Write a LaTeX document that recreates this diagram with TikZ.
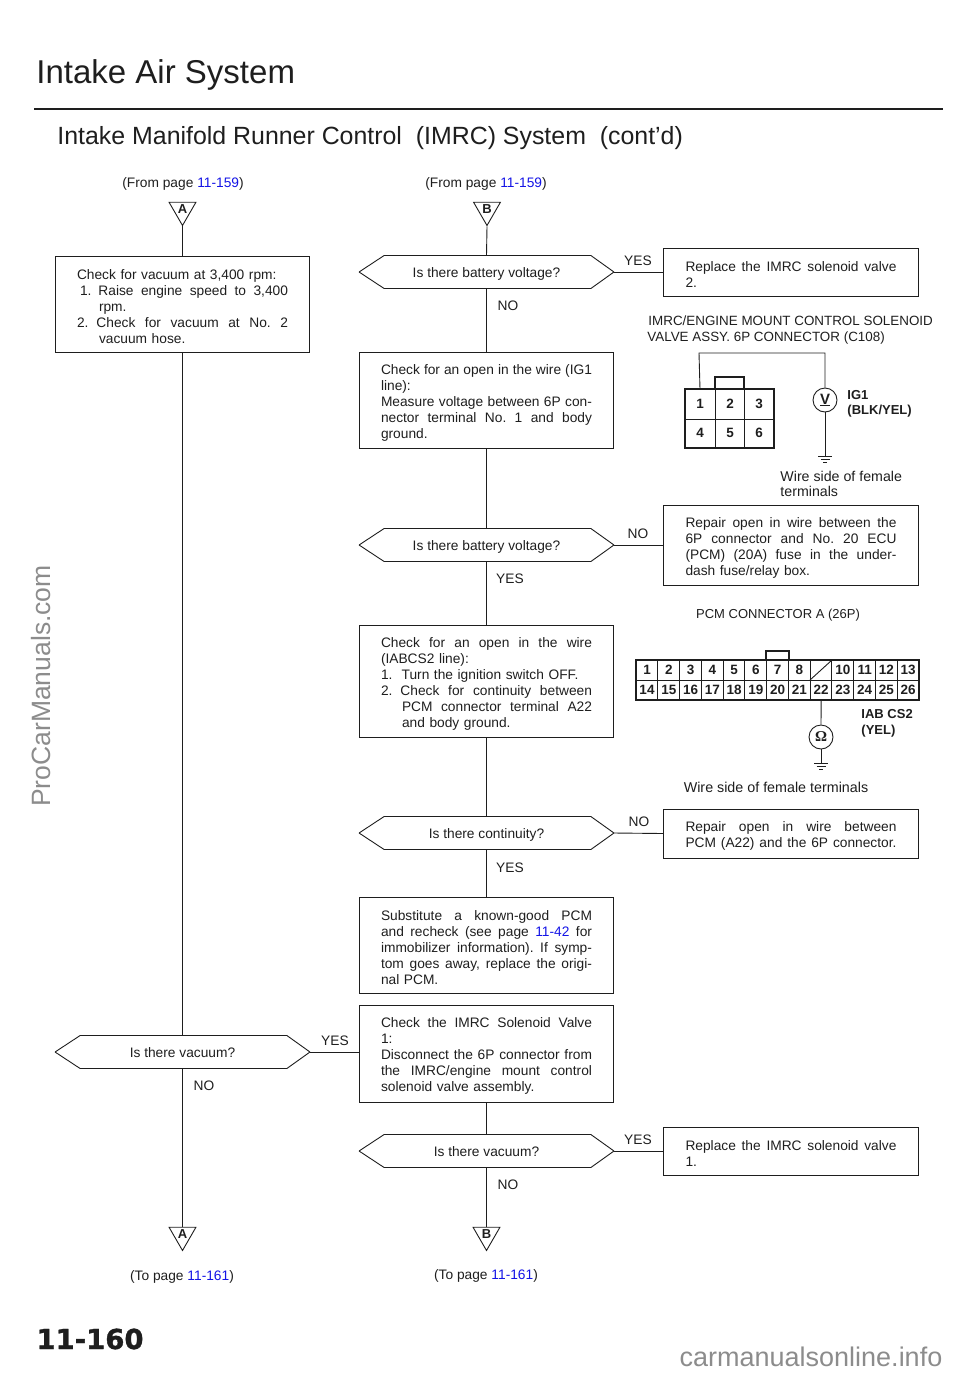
\documentclass[tikz,border=0pt]{standalone}
\usepackage{fontspec}
\setmainfont{Liberation Sans}
\newfontfamily\pagefont[BoldFeatures={FakeBold=1.2}]{DejaVu Sans}
\usetikzlibrary{shapes.geometric}
\definecolor{inkgray}{HTML}{1E1E1E}
\definecolor{linkblue}{HTML}{1414E6}
\definecolor{markgray}{HTML}{8C8C8C}
\newcommand{\lnk}[1]{\textcolor{linkblue}{#1}}
\newcommand{\jline}[2][0pt]{\hbox to \hsize{\spaceskip=.278em plus 1fil\relax\hskip#1\relax #2}}
\newcommand{\pline}[2][0pt]{\hbox{\hskip#1\relax #2}}
\begin{document}
\begin{tikzpicture}[x=1pt, y=-1pt, >=stealth, line width=0.9pt, draw=inkgray, text=inkgray,
  body/.style={font=\fontsize{13.75}{16}\selectfont\frenchspacing},
  wide/.style={font=\fontsize{#1}{16}\selectfont\frenchspacing, inner sep=0pt, anchor=base west},
  wide/.default=13.4,
  stepbox/.style={body, draw, rectangle, inner xsep=21.5pt, inner ysep=0pt, text width=211pt, minimum height=#1,
    execute at begin node={\vskip-0.8pt}},
  stepbox/.default=96pt,
  query/.style={body, inner sep=0pt, minimum width=254pt, minimum height=32pt, text height=14pt, text depth=3pt,
    append after command={
      (\tikzlastnode.west) edge ([xshift=25pt]\tikzlastnode.north west)
      ([xshift=25pt]\tikzlastnode.north west) edge ([xshift=-23pt]\tikzlastnode.north east)
      ([xshift=-23pt]\tikzlastnode.north east) edge (\tikzlastnode.east)
      (\tikzlastnode.east) edge ([xshift=-23pt]\tikzlastnode.south east)
      ([xshift=-23pt]\tikzlastnode.south east) edge ([xshift=25pt]\tikzlastnode.south west)
      ([xshift=25pt]\tikzlastnode.south west) edge (\tikzlastnode.west)}},
  answer/.style={body, inner sep=0pt},
  pageref/.style={regular polygon, regular polygon sides=3, shape border rotate=180, draw, minimum size=31pt,
    inner sep=0pt},
  reflabel/.style={font=\fontsize{13}{13}\selectfont\bfseries, inner sep=0pt},
  pin/.style={font=\fontsize{13.5}{13}\selectfont\bfseries, inner sep=0pt},
  meter/.style={circle, draw, minimum size=24pt, inner sep=0pt, font=\fontsize{15}{15}\selectfont\bfseries},
  groundmark/.pic={
    \draw (-7, 0) -- (7, 0);
    \draw (-4.5, 3) -- (4.5, 3);
    \draw (-2, 6) -- (2, 6);
  }]
  \useasboundingbox (0, 0) rectangle (960, 1374);

  % headings
  \node[inner sep=0pt, anchor=base west, font=\fontsize{33}{33}\selectfont] (title) at (36, 83) {Intake\ Air\ System};
  \coordinate (ruleL) at (34, 109);
  \coordinate (ruleR) at (943, 109);
  \draw[line width=2.2pt] (ruleL) -- (ruleR);
  \node[inner sep=0pt, anchor=base west, font=\fontsize{24.9}{26}\selectfont] (subtitle) at (57, 144)
    {Intake Manifold Runner Control\ \ (IMRC) System\ \ (cont'd)};

  % page references
  \node[answer] (fromA) at (183, 183.5) {(From\ page\ \lnk{11-159})};
  \node[answer] (fromB) at (486, 183.5) {(From page \lnk{11-159})};
  \node[pageref] (triA) at (182.5, 210) {};
  \node[reflabel] at (182.5, 209) {A};
  \node[pageref] (triB) at (487, 210) {};
  \node[reflabel] at (487, 209) {B};
  \node[pageref] (triAend) at (182.5, 1235) {};
  \node[reflabel] at (182.5, 1234) {A};
  \node[pageref] (triBend) at (486.5, 1235) {};
  \node[reflabel] at (486.5, 1234) {B};
  \node[answer] (toA) at (182, 1276.5) {(To page \lnk{11-161})};
  \node[answer] (toB) at (486, 1275.5) {(To page \lnk{11-161})};

  % left column
  \node[stepbox=96pt] (vacCheck) at (182.5, 304) {%
    \pline{Check for vacuum at 3,400 rpm:}
    \jline[3pt]{1.\hskip7pt Raise engine speed to 3,400}
    \pline[22pt]{rpm.}
    \jline{2.\hskip8pt Check for vacuum at No. 2}
    \pline[22pt]{vacuum hose.}};
  \node[query] (vacL) at (182.5, 1052) {Is there vacuum?};
  \node[answer] at (335, 1041) {YES};
  \node[answer] at (204, 1086) {NO};

  % right column
  \node[query] (volt1) at (486.5, 272) {Is there battery voltage?};
  \node[stepbox=96pt] (openIG) at (486.5, 400) {%
    \jline{Check for an open in the wire (IG1}
    \pline{line):}
    \jline{Measure voltage between 6P con-}
    \jline{nector terminal No. 1 and body}
    \pline{ground.}};
  \node[query] (volt2) at (486.5, 545) {Is there battery voltage?};
  \node[stepbox=112pt] (openIAB) at (486.5, 681) {%
    \jline{Check for an open in the wire}
    \pline{(IABCS2 line):}
    \pline{1.\ \ Turn the ignition switch OFF.}
    \jline{2.\hskip8pt Check for continuity between}
    \jline[21pt]{PCM connector terminal A22}
    \pline[21pt]{and body ground.}};
  \node[query] (cont) at (486.5, 833) {Is there continuity?};
  \node[stepbox=96pt] (subPCM) at (486.5, 945) {%
    \jline{Substitute a known-good PCM}
    \jline{and recheck (see page \lnk{11-42} for}
    \jline{immobilizer information). If symp-}
    \jline{tom goes away, replace the origi-}
    \pline{nal PCM.}};
  \node[stepbox=97pt] (valve1) at (486.5, 1053.5) {%
    \jline{Check the IMRC Solenoid Valve}
    \pline{1:}
    \jline{Disconnect the 6P connector from}
    \jline{the IMRC/engine mount control}
    \pline{solenoid valve assembly.}};
  \node[query] (vacR) at (486.5, 1151) {Is there vacuum?};

  % repair boxes
  \node[stepbox=48pt, minimum width=255pt] (replace2) at (791, 272) {%
    \jline{Replace the IMRC solenoid valve}
    \pline{2.}};
  \node[stepbox=80pt, minimum width=255pt] (repairIG) at (791, 545) {%
    \jline{Repair open in wire between the}
    \jline{6P connector and No. 20 ECU}
    \jline{(PCM) (20A) fuse in the under-}
    \pline{dash fuse/relay box.}};
  \node[stepbox=49pt, minimum width=255pt] (repairIAB) at (791, 833.5) {%
    \jline{Repair open in wire between}
    \jline{PCM (A22) and the 6P connector.}};
  \node[stepbox=48pt, minimum width=255pt] (replace1) at (791, 1151) {%
    \jline{Replace the IMRC solenoid valve}
    \pline{1.}};

  % flow lines
  \draw (triA.south) -- (vacCheck.north);
  \draw (vacCheck.south) -- (vacL.north);
  \draw (vacL.south) -- (triAend.north);
  \draw (vacL.east) -- (vacL.east -| valve1.west);
  \draw (triB.south) -- (volt1.north);
  \draw (volt1.south) -- (openIG.north);
  \draw (openIG.south) -- (volt2.north);
  \draw (volt2.south) -- (openIAB.north);
  \draw (openIAB.south) -- (cont.north);
  \draw (cont.south) -- (subPCM.north);
  \draw (valve1.south) -- (vacR.north);
  \draw (vacR.south) -- (triBend.north);
  \draw (volt1.east) -- (replace2.west);
  \draw (volt2.east) -- (repairIG.west);
  \draw (cont.east) -- (repairIAB.west);
  \draw (vacR.east) -- (replace1.west);

  % yes and no
  \node[answer] at (638, 261) {YES};
  \node[answer] at (508, 306) {NO};
  \node[answer] at (638, 534) {NO};
  \node[answer] at (510, 579) {YES};
  \node[answer] at (639, 822) {NO};
  \node[answer] at (510, 868) {YES};
  \node[answer] at (638, 1140) {YES};
  \node[answer] at (508, 1185) {NO};

  % 6P connector
  \node[wide] (capA) at (648, 325) {IMRC/ENGINE MOUNT CONTROL SOLENOID};
  \node[wide] (capB) at (647, 341) {VALVE ASSY. 6P CONNECTOR (C108)};
  \draw[line width=1.3pt] (685, 389) rectangle (774, 448);
  \draw[line width=1.3pt] (715, 389) -- (715, 377) -- (744, 377) -- (744, 389);
  \draw (685, 419) -- (774, 419);
  \draw (715, 389) -- (715, 448);
  \draw (744, 389) -- (744, 448);
  \foreach \n/\px/\py in {1/700/404, 2/730/404, 3/759/404, 4/700/433, 5/730/433, 6/759/433}
    \node[pin] (six\n) at (\px, \py) {\n};
  \node[meter] (voltmeter) at (825, 400) {\underline{V}};
  \coordinate (gndV) at (825, 456);
  \draw (six1.north |- 0, 389) -- (699, 353) -- (825, 353) -- (voltmeter.north);
  \draw (voltmeter.south) -- (gndV);
  \pic at (gndV) {groundmark};
  \node[reflabel, anchor=base west] (ig) at (847, 399) {IG1};
  \node[reflabel, anchor=base west] (igw) at (847, 414) {(BLK/YEL)};
  \node[wide=14.2] (sideA) at (780, 481) {Wire side of female};
  \node[wide=14.2] (sideB) at (780, 496) {terminals};

  % 26P connector
  \node[answer, font=\fontsize{13}{16}\selectfont] (capC) at (778, 615.5) {PCM CONNECTOR A (26P)};
  \draw[line width=1.3pt] (636, 660) rectangle (919, 700);
  \draw[line width=1.3pt] (766, 660) -- (766, 651) -- (789, 651) -- (789, 660);
  \draw (636, 680) -- (919, 680);
  \foreach \c in {1,...,12}
    \draw (636+21.77*\c, 660) -- (636+21.77*\c, 700);
  \draw (810, 680) -- (832, 660);
  \foreach \n/\c in {1/0, 2/1, 3/2, 4/3, 5/4, 6/5, 7/6, 8/7, 10/9, 11/10, 12/11, 13/12}
    \node[pin] (pcm\n) at (647+21.77*\c, 670) {\n};
  \foreach \n/\c in {14/0, 15/1, 16/2, 17/3, 18/4, 19/5, 20/6, 21/7, 22/8, 23/9, 24/10, 25/11, 26/12}
    \node[pin] (pcm\n) at (647+21.77*\c, 690) {\n};
  \node[meter] (ohmmeter) at (821, 737) {{\fontspec{Liberation Serif}\bfseries Ω}};
  \coordinate (gndO) at (821, 763);
  \draw (pcm22.center |- 0, 700) -- (ohmmeter.north);
  \draw (ohmmeter.south) -- (gndO);
  \pic at (gndO) {groundmark};
  \node[reflabel, anchor=base west] (iab) at (861, 718) {IAB CS2};
  \node[reflabel, anchor=base west] (iabw) at (861, 734) {(YEL)};
  \node[answer, font=\fontsize{14.3}{16}\selectfont] (sideC) at (776, 787.5) {Wire side of female terminals};

  % page number and marks
  \node[inner sep=0pt, anchor=base west, font=\pagefont\fontsize{27.5}{28}\selectfont\bfseries] (pageno) at (36, 1349) {11-160};
  \node[inner sep=0pt, rotate=90, text=markgray, font=\fontsize{26.5}{28}\selectfont] (markL) at (41, 686) {ProCarManuals.com};
  \node[inner sep=0pt, text=markgray, font=\fontsize{27}{28}\selectfont] (markR) at (811, 1357) {carmanualsonline.info};
\end{tikzpicture}
\end{document}
